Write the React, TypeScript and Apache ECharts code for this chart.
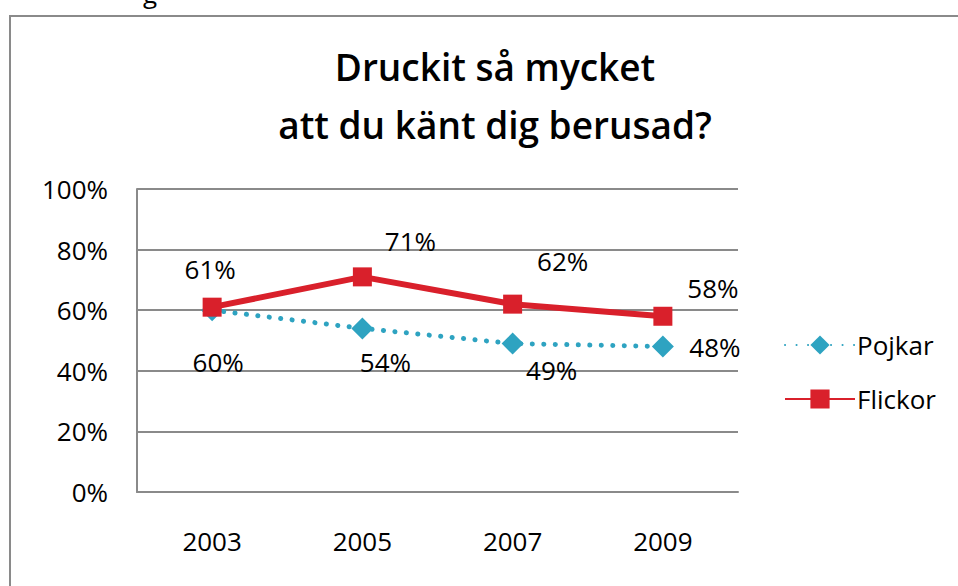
import React, { useEffect, useRef } from "react";
import * as echarts from "echarts";

const titleLines = ["Druckit så mycket", "att du känt dig berusad?"];
const categories = ["2003", "2005", "2007", "2009"];
const pojkarValues = [60, 54, 49, 48];
const flickorValues = [61, 71, 62, 58];
const yTicks = { min: 0, max: 100, interval: 20 };
const pojkarLabelOffsets: [number, number][] = [[6, 52], [23, 34], [39, 26], [52, 0]];
const flickorLabelOffsets: [number, number][] = [[-2, -38], [48, -36], [50, -43], [50, -28]];

const FONT = "'Open Sans', 'Noto Sans', sans-serif";
const GRAY = "#8a8a8a";
const RED = "#d9202b";
const BLUE = "#2ea3c1";

export default function App() {
  const ref = useRef<HTMLDivElement>(null);
  useEffect(() => {
    if (!ref.current) return;
    const chart = echarts.init(ref.current, undefined, { renderer: "svg" });
    const labelStyle = {
      show: true,
      position: "inside" as const,
      color: "#000",
      fontFamily: FONT,
      fontSize: 26,
      formatter: "{c}%",
    };
    chart.setOption({
      animation: false,
      backgroundColor: "#fff",
      textStyle: { fontFamily: FONT },
      title: {
        text: titleLines.join("\n"),
        left: 490,
        top: 32,
        textAlign: "center",
        textStyle: { fontFamily: FONT, fontSize: 37, fontWeight: 600, color: "#000", lineHeight: 58 },
      },
      graphic: [
        {
          type: "rect",
          shape: { x: 10, y: 16, width: 1200, height: 1200 },
          style: { fill: "none", stroke: GRAY, lineWidth: 2 },
          silent: true,
        },
        {
          type: "text",
          x: 143,
          y: 6,
          style: { text: "g", fontFamily: FONT, fontSize: 26, fill: "#000", verticalAlign: "bottom" },
          silent: true,
        },
      ],
      legend: {
        orient: "vertical",
        left: 779,
        top: 327,
        itemWidth: 70,
        itemHeight: 24,
        itemGap: 28,
        textStyle: { fontFamily: FONT, fontSize: 26, color: "#000", lineHeight: 24, padding: [0, 0, 0, -3] },
        data: ["Pojkar", "Flickor"],
      },
      grid: { left: 137, top: 189, right: 220, bottom: 94 },
      xAxis: {
        type: "category",
        data: categories,
        axisLine: { lineStyle: { color: GRAY, width: 2 } },
        axisTick: { show: false },
        axisLabel: { color: "#000", fontFamily: FONT, fontSize: 26, margin: 36 },
      },
      yAxis: {
        type: "value",
        min: yTicks.min,
        max: yTicks.max,
        interval: yTicks.interval,
        axisLine: { show: true, lineStyle: { color: GRAY, width: 2 } },
        axisTick: { show: false },
        splitLine: { lineStyle: { color: GRAY, width: 2 } },
        axisLabel: { color: "#000", fontFamily: FONT, fontSize: 26, margin: 29, formatter: "{value}%" },
      },
      series: [
        {
          name: "Pojkar",
          type: "line",
          symbol: "diamond",
          symbolSize: 22,
          itemStyle: { color: BLUE },
          lineStyle: { color: BLUE, width: 5, type: [0.1, 11.4], cap: "round" },
          data: pojkarValues.map((v, i) => ({
            value: v,
            label: { ...labelStyle, offset: pojkarLabelOffsets[i] },
          })),
          z: 2,
        },
        {
          name: "Flickor",
          type: "line",
          symbol: "rect",
          symbolSize: 19,
          itemStyle: { color: RED },
          lineStyle: { color: RED, width: 6 },
          data: flickorValues.map((v, i) => ({
            value: v,
            label: { ...labelStyle, offset: flickorLabelOffsets[i] },
          })),
          z: 3,
        },
      ],
    });
    return () => chart.dispose();
  }, []);
  return (
    <div
      ref={ref}
      style={{ position: "absolute", left: 0, top: 0, width: 958, height: 586 }}
    />
  );
}
